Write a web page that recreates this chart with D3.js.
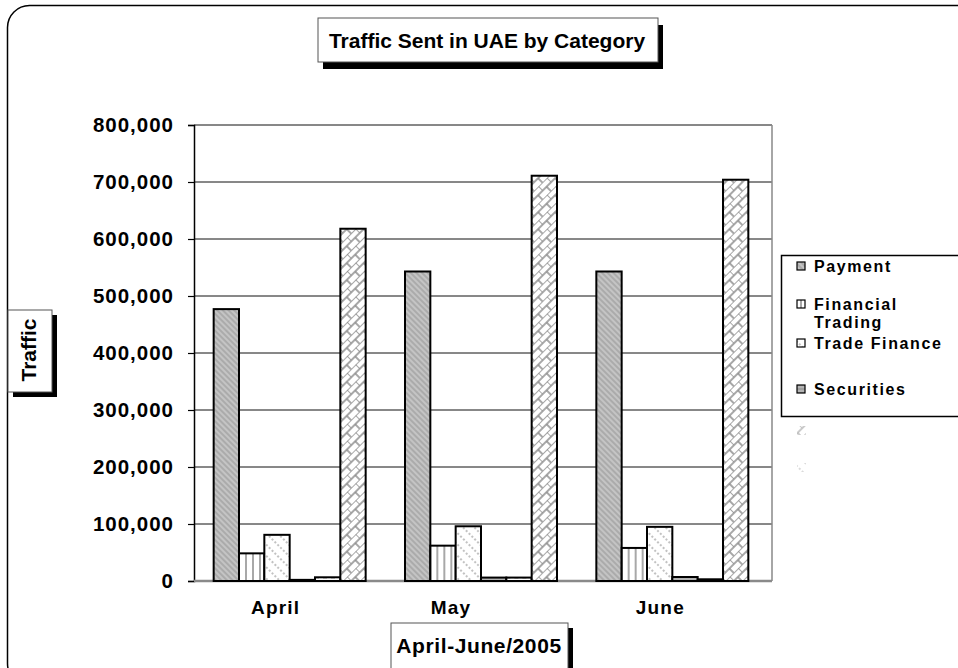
<!DOCTYPE html>
<html><head><meta charset="utf-8">
<script src="https://cdn.jsdelivr.net/npm/d3@7"></script>
<style>
html,body{margin:0;padding:0;background:#fff;}
svg{display:block;}
svg text{font-family:"Liberation Sans",Arial,sans-serif;font-weight:bold;}
</style></head>
<body>
<svg id="chart" width="958" height="668"></svg>
<script>
const categories = ["April", "May", "June"];
const seriesNames = ["Payment", "Financial Trading", "Trade Finance", "Securities", "Series 5", "Series 6"];
const payment          = [477000, 543000, 543000];
const financialTrading = [48500, 62000, 58000];
const tradeFinance     = [81000, 96000, 95000];
const securities       = [2000, 6000, 7000];
const series5          = [6500, 6000, 3000];
const series6          = [618000, 711000, 704000];
const yTicks = [0, 100000, 200000, 300000, 400000, 500000, 600000, 700000, 800000];
const legendShown = ["Payment", ["Financial", "Trading"], "Trade Finance", "Securities"];

const seriesValues = [payment, financialTrading, tradeFinance, securities, series5, series6];
const svg = d3.select("#chart");
const defs = svg.append("defs");

function pat(id, w, h, rot) {
  const p = defs.append("pattern").attr("id", id).attr("patternUnits", "userSpaceOnUse")
    .attr("width", w).attr("height", h);
  if (rot) p.attr("patternTransform", "rotate(" + rot + ")");
  return p;
}
let p;
p = pat("pPay", 4, 4, -45);
p.append("rect").attr("width", 4).attr("height", 4).attr("fill", "#c4c4c4");
p.append("line").attr("x1", 1).attr("y1", 0).attr("x2", 1).attr("y2", 4).attr("stroke", "#9a9a9a").attr("stroke-width", 1.2);
p = pat("pFT", 7, 7, 0);
p.append("rect").attr("width", 7).attr("height", 7).attr("fill", "#fff");
p.append("line").attr("x1", 3).attr("y1", 0).attr("x2", 3).attr("y2", 7).attr("stroke", "#a8a8a8").attr("stroke-width", 2);
p = pat("pTF", 8, 8, -45);
p.append("rect").attr("width", 8).attr("height", 8).attr("fill", "#fff");
p.append("line").attr("x1", 2).attr("y1", 0).attr("x2", 2).attr("y2", 8).attr("stroke", "#9a9a9a").attr("stroke-width", 1.2).attr("stroke-dasharray", "2,2");
p = pat("pSec", 4, 4, 0);
p.append("rect").attr("width", 4).attr("height", 4).attr("fill", "#b4b4b4");
p.append("line").attr("x1", 0).attr("y1", 1).attr("x2", 4).attr("y2", 1).attr("stroke", "#8a8a8a").attr("stroke-width", 1);
p = pat("pS5", 8, 4, 0);
p.append("rect").attr("width", 8).attr("height", 4).attr("fill", "#fff");
p.append("line").attr("x1", 1).attr("y1", 2).attr("x2", 5).attr("y2", 2).attr("stroke", "#a0a0a0").attr("stroke-width", 1);
p = pat("pS6", 12, 12, -45);
p.append("rect").attr("width", 12).attr("height", 12).attr("fill", "#fff");
p.append("path").attr("d", "M0,0H12M0,6H12M0,0V6M6,6V12").attr("stroke", "#8c8c8c").attr("stroke-width", 1.5).attr("fill", "none");
const fills = ["url(#pPay)", "url(#pFT)", "url(#pTF)", "url(#pSec)", "url(#pS5)", "url(#pS6)"];

svg.append("rect").attr("x", 7.5).attr("y", 5.5).attr("width", 975).attr("height", 680).attr("rx", 22)
  .attr("fill", "none").attr("stroke", "#000").attr("stroke-width", 1.5);

const plotL = 194, plotR = 772, plotT = 125, plotB = 581;
const y = d3.scaleLinear().domain([0, 800000]).range([plotB, plotT]);
const x0 = d3.scaleBand().domain(categories).range([plotL, 768]).paddingInner(0).paddingOuter(0);
const gw = 152;
const x1 = d3.scaleBand().domain(seriesNames)
  .range([(x0.bandwidth() - gw) / 2, (x0.bandwidth() + gw) / 2]).padding(0);

svg.append("g").selectAll("line").data(yTicks.slice(1)).join("line")
  .attr("x1", plotL).attr("x2", plotR).attr("y1", d => y(d)).attr("y2", d => y(d))
  .attr("stroke", "#111").attr("stroke-width", 1);
svg.append("line").attr("x1", plotR).attr("x2", plotR).attr("y1", plotT).attr("y2", plotB)
  .attr("stroke", "#888").attr("stroke-width", 1.5);

const yAxis = d3.axisLeft(y).tickValues(yTicks).tickSize(6).tickPadding(14).tickFormat(d3.format(","));
const ga = svg.append("g").attr("transform", `translate(${plotL},0)`).call(yAxis);
ga.attr("font-family", null).attr("font-size", null);
ga.select(".domain").attr("stroke", "#000").attr("stroke-width", 1.5);
ga.selectAll(".tick line").attr("stroke", "#000").attr("stroke-width", 1.2);
ga.selectAll(".tick text").attr("font-size", 20.5).attr("letter-spacing", 1).attr("fill", "#000");

svg.append("line").attr("x1", plotL).attr("x2", plotR).attr("y1", plotB).attr("y2", plotB)
  .attr("stroke", "#8a8a8a").attr("stroke-width", 2.5);

const groups = svg.append("g").selectAll("g").data(categories).join("g")
  .attr("transform", d => `translate(${x0(d)},0)`);
groups.selectAll("rect").data((c, ci) => seriesNames.map((s, si) => ({s, si, v: seriesValues[si][ci]})))
  .join("rect")
  .attr("x", d => x1(d.s)).attr("width", x1.bandwidth())
  .attr("y", d => y(d.v)).attr("height", d => y(0) - y(d.v))
  .attr("fill", d => fills[d.si]).attr("stroke", "#000").attr("stroke-width", 2);

const labelShift = [-14, -30, -12];
svg.append("g").selectAll("text").data(categories).join("text")
  .attr("x", (d, i) => x0(d) + x0.bandwidth() / 2 + labelShift[i]).attr("y", 614)
  .attr("text-anchor", "middle").attr("font-size", 19).attr("letter-spacing", 1.2).text(d => d);

svg.append("rect").attr("x", 323).attr("y", 25).attr("width", 340).attr("height", 44).attr("fill", "#000");
svg.append("rect").attr("x", 318).attr("y", 18).attr("width", 340).attr("height", 44).attr("fill", "#fff")
  .attr("stroke", "#555").attr("stroke-width", 1);
svg.append("text").attr("x", 487).attr("y", 48).attr("text-anchor", "middle").attr("font-size", 21)
  .text("Traffic Sent in UAE by Category");

svg.append("rect").attr("x", 13).attr("y", 315).attr("width", 44).attr("height", 82).attr("fill", "#000");
svg.append("rect").attr("x", 8).attr("y", 310).attr("width", 44).attr("height", 82).attr("fill", "#fff")
  .attr("stroke", "#555").attr("stroke-width", 1);
svg.append("text").attr("transform", "translate(36,350) rotate(-90)").attr("text-anchor", "middle")
  .attr("font-size", 21).text("Traffic");

svg.append("rect").attr("x", 396).attr("y", 628).attr("width", 177).attr("height", 60).attr("fill", "#000");
svg.append("rect").attr("x", 391).attr("y", 623).attr("width", 177).attr("height", 60).attr("fill", "#fff")
  .attr("stroke", "#555").attr("stroke-width", 1);
svg.append("text").attr("x", 479).attr("y", 653).attr("text-anchor", "middle").attr("font-size", 21)
  .attr("letter-spacing", 0.6).text("April-June/2005");

svg.append("rect").attr("x", 781.5).attr("y", 255.5).attr("width", 200).attr("height", 161)
  .attr("fill", "#fff").attr("stroke", "#000").attr("stroke-width", 1.5);
const legY = [266, 304, 343, 389];
const lg = svg.append("g");
legendShown.forEach((lbl, i) => {
  lg.append("rect").attr("x", 797).attr("y", legY[i] - 4).attr("width", 8).attr("height", 8)
    .attr("fill", fills[i]).attr("stroke", "#000").attr("stroke-width", 1.2);
  const t = lg.append("text").attr("x", 814).attr("y", legY[i] + 6).attr("font-size", 16).attr("letter-spacing", 1.6);
  if (Array.isArray(lbl)) {
    t.text(lbl[0]);
    lg.append("text").attr("x", 814).attr("y", legY[i] + 24).attr("font-size", 16).attr("letter-spacing", 1.6).text(lbl[1]);
  } else t.text(lbl);
});
[[5, 430], [2, 467]].forEach(([si, yy]) => {
  lg.append("rect").attr("x", 797).attr("y", yy - 4).attr("width", 9).attr("height", 9)
    .attr("fill", fills[si]).attr("opacity", 0.6);
});
</script>
</body></html>
